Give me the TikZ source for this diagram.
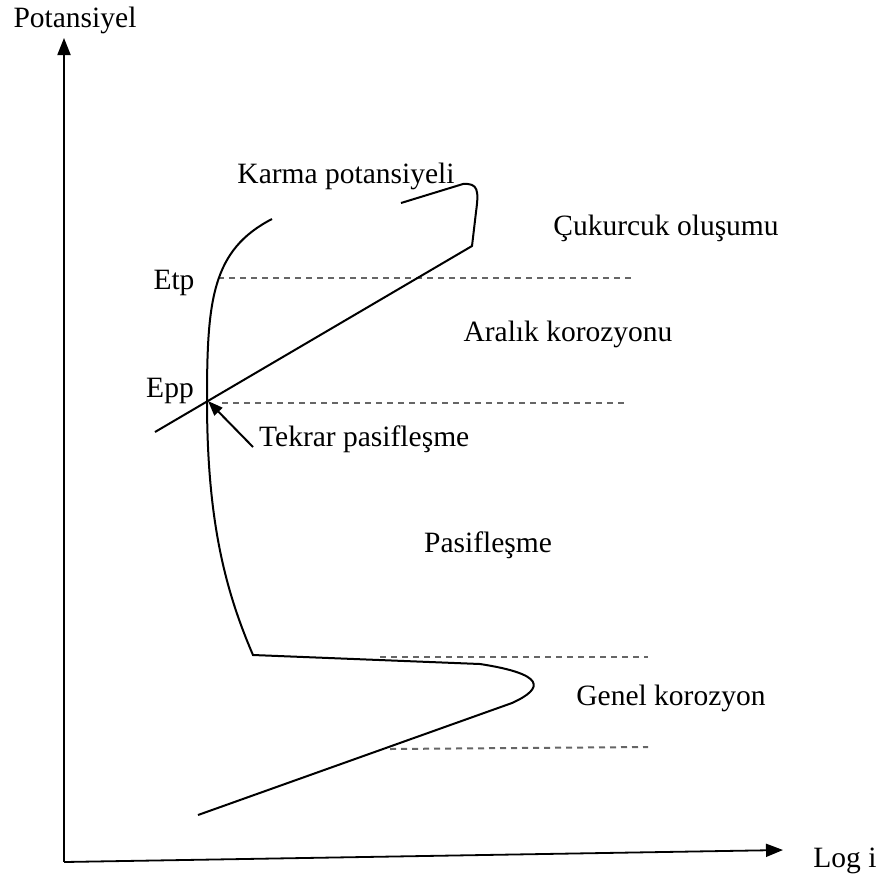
\documentclass[tikz,border=0pt]{standalone}
\usepackage{fontspec}
\setmainfont{Liberation Serif}
\usetikzlibrary{arrows.meta}
\begin{document}
\begin{tikzpicture}[x=1pt,y=-1pt,
  lbl/.style={font=\fontsize{29.5}{34}\selectfont, inner sep=0pt, anchor=base},
  curve/.style={line width=2pt, black},
  guide/.style={line width=2pt, gray!80!black, dash pattern=on 6pt off 5pt},
  axis/.style={line width=1.8pt, -{Triangle[length=17pt,width=13pt]}}]
\useasboundingbox (0,0) rectangle (882,881);
% axes
\coordinate (O) at (64,862);
\coordinate (Ytop) at (64,38);
\coordinate (Xend) at (783,850);
\draw[axis] (O) -- (Ytop);
\draw[axis] (O) -- (Xend);
\node[lbl] (pot) at (75,27) {Potansiyel};
\node[lbl] (logi) at (845,867) {Log i};
% guide lines
\coordinate (etpA) at (218,278); \coordinate (etpB) at (632,278);
\coordinate (eppA) at (222,403); \coordinate (eppB) at (625,403);
\coordinate (g1A) at (380,657); \coordinate (g1B) at (648,657);
\coordinate (g2A) at (390,749); \coordinate (g2B) at (648,747);
\draw[guide] (etpA) -- (etpB);
\draw[guide] (eppA) -- (eppB);
\draw[guide] (g1A) -- (g1B);
\draw[guide] (g2A) -- (g2B);
% polarization curve
\draw[curve] (198,815) -- (512,703) .. controls (545,688) and (545,674) .. (480,664)
  -- (253,655) .. controls (225,590) and (207,520) .. (207,400)
  .. controls (207,300) and (212,250) .. (272,219);
% repassivation line with hook
\coordinate (Epp) at (208,401);
\draw[curve] (155,432) -- (472,246) -- (476,212) .. controls (479,190) and (478,183) .. (463,184) -- (401,203);
% labels
\node[lbl] (karma) at (346,183) {Karma potansiyeli};
\node[lbl, anchor=center] (cuk) at (666,228) {Çukurcuk oluşumu};
\node[lbl] (etp) at (174,289) {Etp};
\node[lbl] (aral) at (568,341) {Aralık korozyonu};
\node[lbl] (epp) at (170,397) {Epp};
\node[lbl, anchor=base west] (tekrar) at (259,446) {Tekrar pasifleşme};
\node[lbl, anchor=center] (pas) at (488,545) {Pasifleşme};
\node[lbl, anchor=center] (genel) at (671,698) {Genel korozyon};
\coordinate (tail) at (253,447);
\draw[line width=2pt, -{Triangle[length=15pt,width=11pt]}] (tail) -- (Epp);
\end{tikzpicture}
\end{document}
